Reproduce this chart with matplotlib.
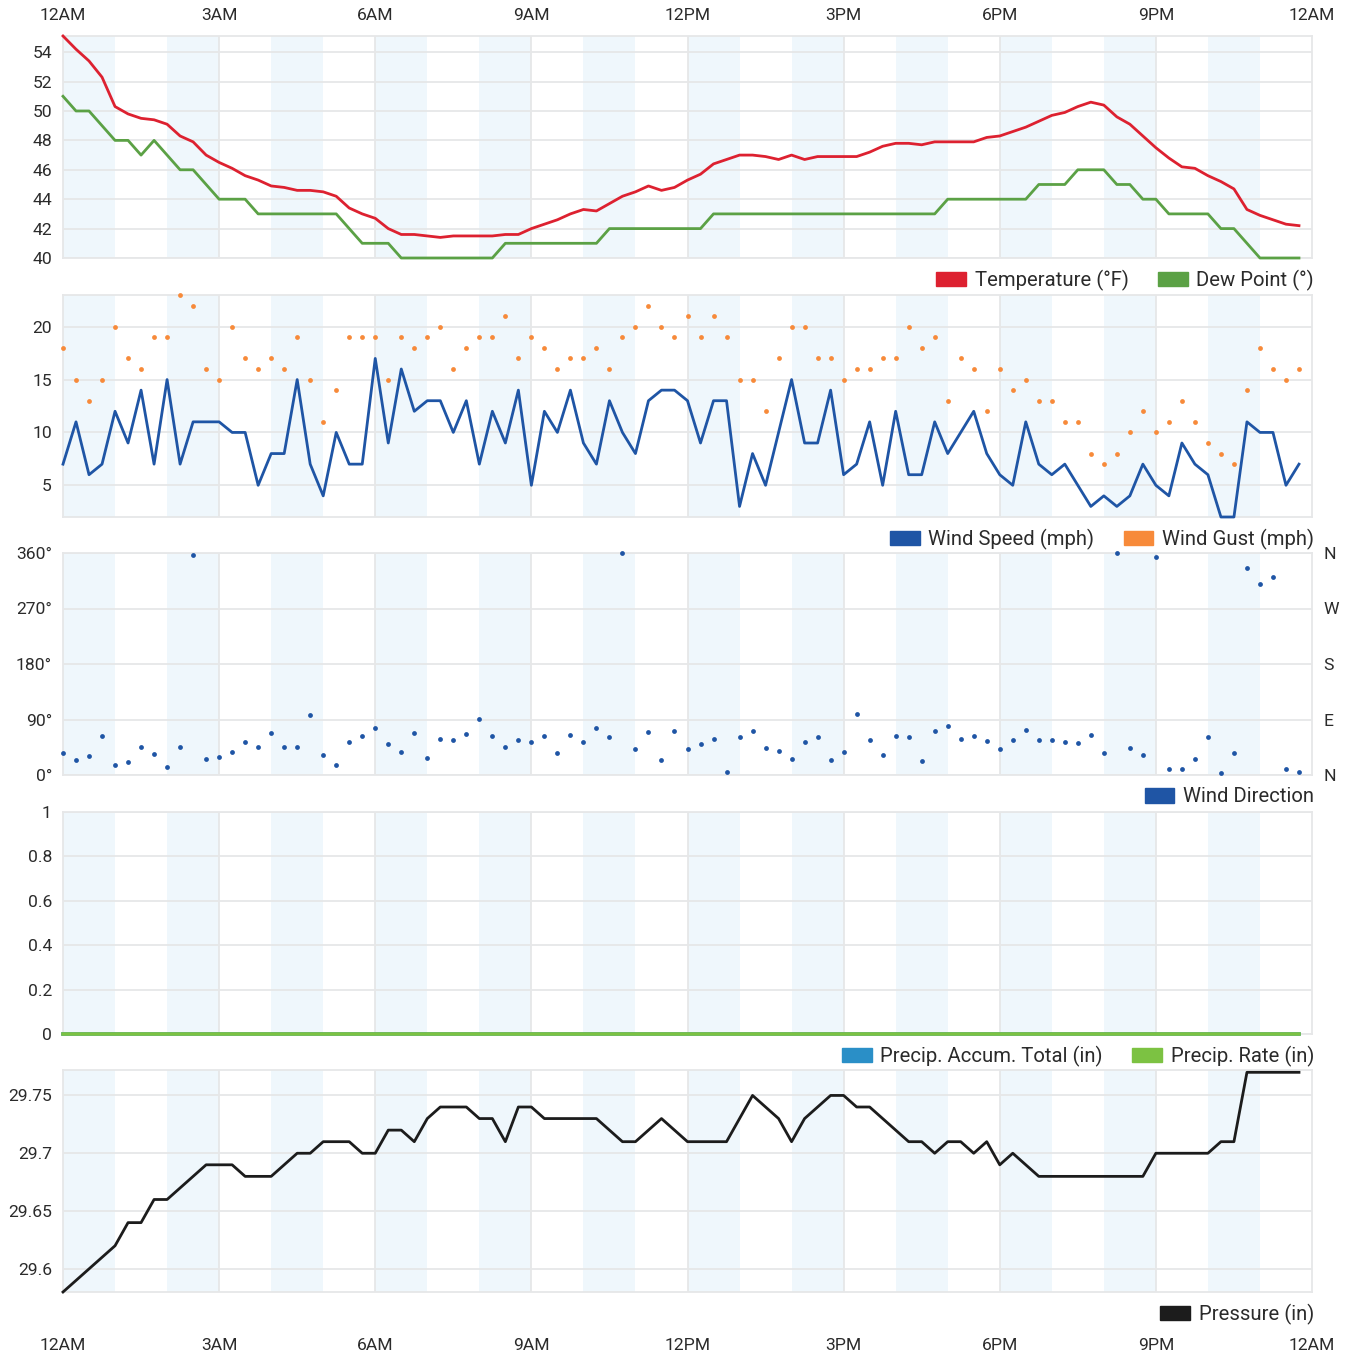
import numpy as np
import matplotlib
matplotlib.use("Agg")
import matplotlib.pyplot as plt
from matplotlib.patches import Patch

plt.rcParams['font.family'] = ['Roboto', 'DejaVu Sans']

# ---------------- data (15-minute observations) ----------------
hours = np.arange(96) * 0.25

temperature = [55.1, 54.2, 53.4, 52.3, 50.3, 49.8, 49.5, 49.4, 49.1, 48.3,
               47.9, 47.0, 46.5, 46.1, 45.6, 45.3, 44.9, 44.8, 44.6, 44.6,
               44.5, 44.2, 43.4, 43.0, 42.7, 42.0, 41.6, 41.6, 41.5, 41.4,
               41.5, 41.5, 41.5, 41.5, 41.6, 41.6, 42.0, 42.3, 42.6, 43.0,
               43.3, 43.2, 43.7, 44.2, 44.5, 44.9, 44.6, 44.8, 45.3, 45.7,
               46.4, 46.7, 47.0, 47.0, 46.9, 46.7, 47.0, 46.7, 46.9, 46.9,
               46.9, 46.9, 47.2, 47.6, 47.8, 47.8, 47.7, 47.9, 47.9, 47.9,
               47.9, 48.2, 48.3, 48.6, 48.9, 49.3, 49.7, 49.9, 50.3, 50.6,
               50.4, 49.6, 49.1, 48.3, 47.5, 46.8, 46.2, 46.1, 45.6, 45.2,
               44.7, 43.3, 42.9, 42.6, 42.3, 42.2]

dew_point = [51, 50, 50, 49, 48, 48, 47, 48, 47, 46,
             46, 45, 44, 44, 44, 43, 43, 43, 43, 43,
             43, 43, 42, 41, 41, 41, 40, 40, 40, 40,
             40, 40, 40, 40, 41, 41, 41, 41, 41, 41,
             41, 41, 42, 42, 42, 42, 42, 42, 42, 42,
             43, 43, 43, 43, 43, 43, 43, 43, 43, 43,
             43, 43, 43, 43, 43, 43, 43, 43, 44, 44,
             44, 44, 44, 44, 44, 45, 45, 45, 46, 46,
             46, 45, 45, 44, 44, 43, 43, 43, 43, 42,
             42, 41, 40, 40, 40, 40]

wind_speed = [7, 11, 6, 7, 12, 9, 14, 7, 15, 7,
              11, 11, 11, 10, 10, 5, 8, 8, 15, 7,
              4, 10, 7, 7, 17, 9, 16, 12, 13, 13,
              10, 13, 7, 12, 9, 14, 5, 12, 10, 14,
              9, 7, 13, 10, 8, 13, 14, 14, 13, 9,
              13, 13, 3, 8, 5, 10, 15, 9, 9, 14,
              6, 7, 11, 5, 12, 6, 6, 11, 8, 10,
              12, 8, 6, 5, 11, 7, 6, 7, 5, 3,
              4, 3, 4, 7, 5, 4, 9, 7, 6, 2,
              2, 11, 10, 10, 5, 7]

wind_gust = [18, 15, 13, 15, 20, 17, 16, 19, 19, 23,
             22, 16, 15, 20, 17, 16, 17, 16, 19, 15,
             11, 14, 19, 19, 19, 15, 19, 18, 19, 20,
             16, 18, 19, 19, 21, 17, 19, 18, 16, 17,
             17, 18, 16, 19, 20, 22, 20, 19, 21, 19,
             21, 19, 15, 15, 12, 17, 20, 20, 17, 17,
             15, 16, 16, 17, 17, 20, 18, 19, 13, 17,
             16, 12, 16, 14, 15, 13, 13, 11, 11, 8,
             7, 8, 10, 12, 10, 11, 13, 11, 9, 8,
             7, 14, 18, 16, 15, 16]

wind_dir = [35, 24, 31, 64, 16, 21, 45, 34, 13, 46,
            357, 26, 29, 38, 54, 45, 68, 45, 46, 98,
            32, 16, 54, 64, 76, 50, 38, 68, 28, 58,
            56, 67, 91, 64, 45, 57, 54, 64, 36, 65,
            54, 76, 61, 360, 42, 69, 24, 72, 42, 50,
            59, 5, 61, 71, 43, 39, 26, 54, 61, 25,
            37, 99, 56, 33, 64, 61, 22, 71, 80, 58,
            64, 55, 42, 56, 73, 57, 56, 54, 52, 65,
            35, 360, 43, 33, 353, 10, 9, 26, 62, 3,
            35, 335, 310, 321, 9, 5]

precip_total = [0.0] * 96
precip_rate = [0.0] * 96

pressure = [29.58, 29.59, 29.60, 29.61, 29.62, 29.64, 29.64, 29.66, 29.66, 29.67,
            29.68, 29.69, 29.69, 29.69, 29.68, 29.68, 29.68, 29.69, 29.70, 29.70,
            29.71, 29.71, 29.71, 29.70, 29.70, 29.72, 29.72, 29.71, 29.73, 29.74,
            29.74, 29.74, 29.73, 29.73, 29.71, 29.74, 29.74, 29.73, 29.73, 29.73,
            29.73, 29.73, 29.72, 29.71, 29.71, 29.72, 29.73, 29.72, 29.71, 29.71,
            29.71, 29.71, 29.73, 29.75, 29.74, 29.73, 29.71, 29.73, 29.74, 29.75,
            29.75, 29.74, 29.74, 29.73, 29.72, 29.71, 29.71, 29.70, 29.71, 29.71,
            29.70, 29.71, 29.69, 29.70, 29.69, 29.68, 29.68, 29.68, 29.68, 29.68,
            29.68, 29.68, 29.68, 29.68, 29.70, 29.70, 29.70, 29.70, 29.70, 29.71,
            29.71, 29.77, 29.77, 29.77, 29.77, 29.77]

x_tick_hours = [0, 3, 6, 9, 12, 15, 18, 21, 24]
x_tick_labels = ["12AM", "3AM", "6AM", "9AM", "12PM", "3PM", "6PM", "9PM", "12AM"]
band_starts = [0, 2, 4, 6, 8, 10, 12, 14, 16, 18, 20, 22]

temp_ticks = [40, 42, 44, 46, 48, 50, 52, 54]
wind_ticks = [5, 10, 15, 20]
dir_ticks = [0, 90, 180, 270, 360]
dir_labels = ["0°", "90°", "180°", "270°", "360°"]
dir_compass = ["N", "E", "S", "W", "N"]
precip_ticks = [0, 0.2, 0.4, 0.6, 0.8, 1]
precip_labels = ["0", "0.2", "0.4", "0.6", "0.8", "1"]
pres_ticks = [29.6, 29.65, 29.7, 29.75]
pres_labels = ["29.6", "29.65", "29.7", "29.75"]

# ---------------- colours ----------------
C_TEMP = "#dd2130"
C_DEW = "#5ba145"
C_WIND = "#1f55a5"
C_GUST = "#f78a3a"
C_DIR = "#1f55a5"
C_PTOT = "#2a8fc7"
C_PRATE = "#7cc242"
C_PRES = "#1c1c1c"
C_BAND = "#eff7fc"
C_GRID = "#e6e7e8"
C_TEXT = "#2b2b2b"

# ---------------- layout ----------------
W, H = 1348, 1357
fig = plt.figure(figsize=(W / 100, H / 100), dpi=100)
LEFT, RIGHT = 63, 1312
tops = [36, 295, 553, 812, 1070]
PH = 222
TICK_FS = 12.6
LEG_FS = 14.6


def make_ax(top, ylim, yticks, ylabels=None):
    ax = fig.add_axes([LEFT / W, 1 - (top + PH) / H, (RIGHT - LEFT) / W, PH / H])
    ax.set_xlim(0, 24)
    ax.set_ylim(*ylim)
    for b in band_starts:
        ax.axvspan(b, b + 1, color=C_BAND, lw=0, zorder=0)
    for h in x_tick_hours[1:-1]:
        ax.axvline(h, color=C_GRID, lw=1.3, zorder=0.5)
    for t in yticks:
        ax.axhline(t, color=C_GRID, lw=1.3, zorder=0.5)
    ax.set_xticks([])
    ax.set_yticks(yticks)
    if ylabels is not None:
        ax.set_yticklabels(ylabels)
    ax.tick_params(axis='y', length=0, pad=8, labelsize=TICK_FS, labelcolor=C_TEXT)
    for s in ax.spines.values():
        s.set_color(C_GRID)
        s.set_linewidth(1.3)
    return ax


def add_legend(top, handles, labels):
    y = 1 - (top + PH + 22) / H
    fig.legend(handles, labels, loc='center right', bbox_to_anchor=(1314 / W, y),
               ncol=len(handles), frameon=False, fontsize=LEG_FS,
               handlelength=1.47, handleheight=0.7, handletextpad=0.42,
               columnspacing=1.45, borderpad=0, borderaxespad=0,
               labelcolor=C_TEXT)


# Panel 1: temperature / dew point
ax1 = make_ax(tops[0], (40, 55.1), temp_ticks)
ax1.plot(hours, dew_point, color=C_DEW, lw=2.0, solid_joinstyle='round', zorder=3, clip_on=False)
ax1.plot(hours, temperature, color=C_TEMP, lw=2.0, solid_joinstyle='round', zorder=4, clip_on=False)
add_legend(tops[0], [Patch(color=C_TEMP), Patch(color=C_DEW)],
           ["Temperature (°F)", "Dew Point (°)"])

# Panel 2: wind
ax2 = make_ax(tops[1], (2, 23), wind_ticks)
ax2.plot(hours, wind_speed, color=C_WIND, lw=2.0, solid_joinstyle='round', zorder=3, clip_on=False)
ax2.scatter(hours, wind_gust, s=12, color=C_GUST, zorder=4, clip_on=False, linewidths=0)
add_legend(tops[1], [Patch(color=C_WIND), Patch(color=C_GUST)],
           ["Wind Speed (mph)", "Wind Gust (mph)"])

# Panel 3: wind direction
ax3 = make_ax(tops[2], (0, 360), dir_ticks, dir_labels)
ax3.scatter(hours, wind_dir, s=12, color=C_DIR, zorder=4, clip_on=False, linewidths=0)
ax3r = ax3.twinx()
ax3r.set_ylim(0, 360)
ax3r.set_yticks(dir_ticks)
ax3r.set_yticklabels(dir_compass)
ax3r.tick_params(axis='y', length=0, pad=8, labelsize=TICK_FS, labelcolor=C_TEXT)
for s in ax3r.spines.values():
    s.set_visible(False)
add_legend(tops[2], [Patch(color=C_DIR)], ["Wind Direction"])

# Panel 4: precipitation
ax4 = make_ax(tops[3], (0, 1), precip_ticks, precip_labels)
ax4.plot(hours, precip_total, color=C_PTOT, lw=2.6, zorder=3, clip_on=False)
ax4.plot(hours, precip_rate, color=C_PRATE, lw=2.6, zorder=4, clip_on=False)
add_legend(tops[3], [Patch(color=C_PTOT), Patch(color=C_PRATE)],
           ["Precip. Accum. Total (in)", "Precip. Rate (in)"])

# Panel 5: pressure
ax5 = make_ax(tops[4], (29.58, 29.772), pres_ticks, pres_labels)
ax5.plot(hours, pressure, color=C_PRES, lw=2.0, solid_joinstyle='round', zorder=3, clip_on=False)
add_legend(tops[4], [Patch(color=C_PRES)], ["Pressure (in)"])

# shared time labels, top and bottom
for h, lab in zip(x_tick_hours, x_tick_labels):
    xf = (LEFT + (RIGHT - LEFT) * h / 24) / W
    fig.text(xf, 1 - 15 / H, lab, ha='center', va='center', fontsize=TICK_FS, color=C_TEXT)
    fig.text(xf, 1 - 1345 / H, lab, ha='center', va='center', fontsize=TICK_FS, color=C_TEXT)

fig.savefig("out.png", dpi=100, facecolor="white")
